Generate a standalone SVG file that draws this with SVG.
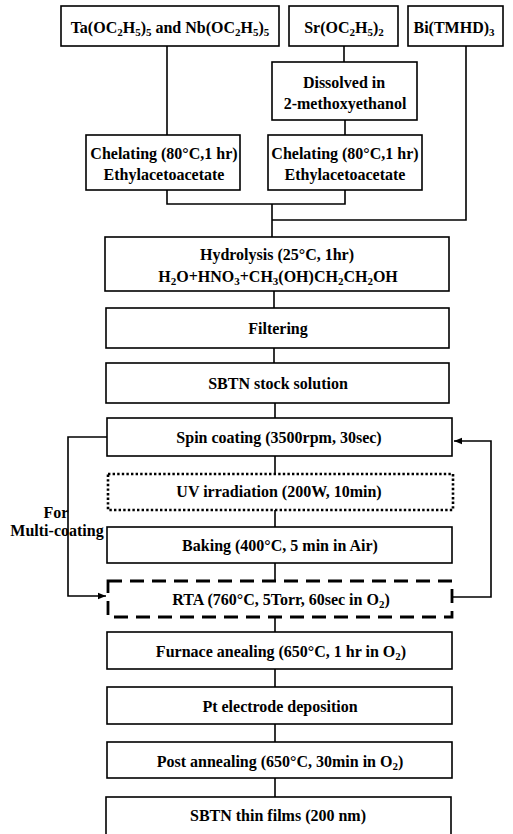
<svg xmlns="http://www.w3.org/2000/svg" width="513" height="834" viewBox="0 0 513 834">
<style>
.box{fill:#fff;stroke:#000;stroke-width:1.6}
.dot{fill:#fff;stroke:#000;stroke-width:2.6;stroke-dasharray:2.4 2.2}
.dash{fill:#fff;stroke:#000;stroke-width:2.8;stroke-dasharray:14 8}
.t{font-family:"Liberation Serif","Times New Roman",serif;font-weight:bold;font-size:16px;fill:#000;text-anchor:middle}
.s{font-size:11px}
.c{fill:none;stroke:#000;stroke-width:1.6}
</style>
<defs>
<marker id="ah" viewBox="0 0 10 10" refX="10" refY="5" markerWidth="8" markerHeight="8" markerUnits="userSpaceOnUse" orient="auto">
<path d="M0,1 L10,5 L0,9 z" fill="#000"/>
</marker>
</defs>
<rect width="513" height="834" fill="#fff"/>
<g id="connectors">
<path class="c" d="M167,46 V135"/>
<path class="c" d="M344,46 V62"/>
<path class="c" d="M345,120 V135"/>
<path class="c" d="M167,190 V204 H345 V190"/>
<path class="c" d="M272,204 V237"/>
<path class="c" d="M466,46 V220 H272"/>
<path class="c" d="M274,291 V308"/>
<path class="c" d="M274,348 V363"/>
<path class="c" d="M275,403 V418"/>
<path class="c" d="M275,456 V473"/>
<path class="c" d="M275,510 V527"/>
<path class="c" d="M275,563 V580"/>
<path class="c" d="M275,617 V632"/>
<path class="c" d="M275,669 V687"/>
<path class="c" d="M275,724 V742"/>
<path class="c" d="M275,778 V797"/>
<path class="c" d="M107,437 H68 V596 H106" marker-end="url(#ah)"/>
<path class="c" d="M453,597 H491 V441 H454" marker-end="url(#ah)"/>
</g>
<g id="ta">
<rect class="box" x="61" y="6" width="218" height="40"/>
<text class="t" x="170" y="33">Ta(OC<tspan class="s" dy="3">2</tspan><tspan dy="-3">H</tspan><tspan class="s" dy="3">5</tspan><tspan dy="-3">)</tspan><tspan class="s" dy="3">5</tspan><tspan dy="-3"> and Nb(OC</tspan><tspan class="s" dy="3">2</tspan><tspan dy="-3">H</tspan><tspan class="s" dy="3">5</tspan><tspan dy="-3">)</tspan><tspan class="s" dy="3">5</tspan></text>
</g>
<g id="sr">
<rect class="box" x="289" y="6" width="109" height="40"/>
<text class="t" x="344" y="33">Sr(OC<tspan class="s" dy="3">2</tspan><tspan dy="-3">H</tspan><tspan class="s" dy="3">5</tspan><tspan dy="-3">)</tspan><tspan class="s" dy="3">2</tspan></text>
</g>
<g id="bi">
<rect class="box" x="408" y="6" width="95" height="40"/>
<text class="t" x="454" y="33">Bi(TMHD)<tspan class="s" dy="3">3</tspan></text>
</g>
<g id="dissolved">
<rect class="box" x="272" y="62" width="145" height="58"/>
<text class="t" x="344" y="88">Dissolved in</text>
<text class="t" x="345" y="109">2-methoxyethanol</text>
</g>
<g id="chel1">
<rect class="box" x="86" y="135" width="154" height="55"/>
<text class="t" x="164" y="159">Chelating (80°C,1 hr)</text>
<text class="t" x="164" y="180">Ethylacetoacetate</text>
</g>
<g id="chel2">
<rect class="box" x="268" y="135" width="154" height="55"/>
<text class="t" x="345" y="159">Chelating (80°C,1 hr)</text>
<text class="t" x="345" y="180">Ethylacetoacetate</text>
</g>
<g id="hydrolysis">
<rect class="box" x="105" y="237" width="344" height="54"/>
<text class="t" x="277" y="260">Hydrolysis (25°C, 1hr)</text>
<text class="t" x="278" y="282">H<tspan class="s" dy="3">2</tspan><tspan dy="-3">O+HNO</tspan><tspan class="s" dy="3">3</tspan><tspan dy="-3">+CH</tspan><tspan class="s" dy="3">3</tspan><tspan dy="-3">(OH)CH</tspan><tspan class="s" dy="3">2</tspan><tspan dy="-3">CH</tspan><tspan class="s" dy="3">2</tspan><tspan dy="-3">OH</tspan></text>
</g>
<g id="filtering">
<rect class="box" x="106" y="308" width="343" height="40"/>
<text class="t" x="278" y="334">Filtering</text>
</g>
<g id="stock">
<rect class="box" x="106" y="363" width="343" height="40"/>
<text class="t" x="278" y="389">SBTN stock solution</text>
</g>
<g id="spin">
<rect class="box" x="107" y="418" width="345" height="38"/>
<text class="t" x="279" y="443">Spin coating (3500rpm, 30sec)</text>
</g>
<g id="uv">
<rect class="dot" x="108" y="474" width="345" height="36"/>
<text class="t" x="279" y="497">UV irradiation (200W, 10min)</text>
</g>
<g id="baking">
<rect class="box" x="107" y="527" width="345" height="36"/>
<text class="t" x="280" y="551">Baking (400°C, 5 min in Air)</text>
</g>
<g id="rta">
<rect class="dash" x="108" y="581" width="344" height="36"/>
<text class="t" x="281" y="605">RTA (760°C, 5Torr, 60sec in O<tspan class="s" dy="3">2</tspan><tspan dy="-3">)</tspan></text>
</g>
<g id="furnace">
<rect class="box" x="107" y="632" width="345" height="37"/>
<text class="t" x="281" y="657">Furnace anealing (650°C, 1 hr in O<tspan class="s" dy="3">2</tspan><tspan dy="-3">)</tspan></text>
</g>
<g id="pt">
<rect class="box" x="107" y="687" width="345" height="37"/>
<text class="t" x="280" y="712">Pt electrode deposition</text>
</g>
<g id="post">
<rect class="box" x="107" y="742" width="345" height="36"/>
<text class="t" x="280" y="767">Post annealing (650°C, 30min in O<tspan class="s" dy="3">2</tspan><tspan dy="-3">)</tspan></text>
</g>
<g id="films">
<rect class="box" x="106" y="797" width="345" height="40"/>
<text class="t" x="278" y="821">SBTN thin films (200 nm)</text>
</g>
<g id="multi">
<text class="t" x="56" y="518">For</text>
<text class="t" x="57" y="536">Multi-coating</text>
</g>
</svg>
